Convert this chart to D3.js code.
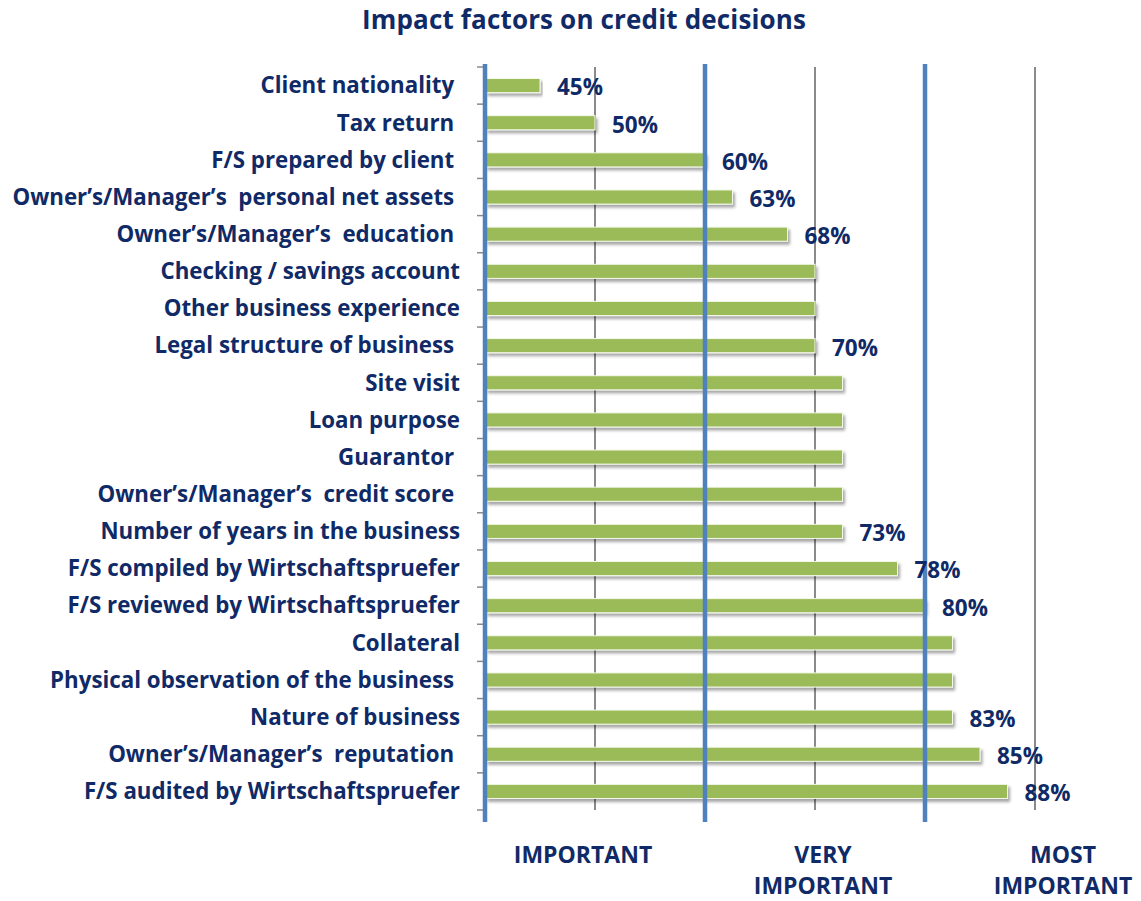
<!DOCTYPE html>
<html>
<head>
<meta charset="utf-8">
<script src="https://cdn.jsdelivr.net/npm/d3@7"></script>
<style>
  body { margin: 0; background: #fff; }
  text { font-family: "Open Sans", Lato, sans-serif; font-weight: 700; fill: #0f2a66; }
</style>
</head>
<body>
<svg width="1141" height="901"></svg>
<script>
const categories = [
    'Client nationality ',
    'Tax return ',
    'F/S prepared by client ',
    'Owner\u2019s/Manager\u2019s  personal net assets ',
    'Owner\u2019s/Manager\u2019s  education ',
    'Checking / savings account',
    'Other business experience',
    'Legal structure of business ',
    'Site visit',
    'Loan purpose',
    'Guarantor ',
    'Owner\u2019s/Manager\u2019s  credit score ',
    'Number of years in the business',
    'F/S compiled by Wirtschaftspruefer',
    'F/S reviewed by Wirtschaftspruefer',
    'Collateral',
    'Physical observation of the business ',
    'Nature of business',
    'Owner\u2019s/Manager\u2019s  reputation ',
    'F/S audited by Wirtschaftspruefer'
];
const values = [45, 50, 60, 62.5, 67.5, 70, 70, 70, 72.5, 72.5, 72.5, 72.5, 72.5, 77.5, 80, 82.5, 82.5, 82.5, 85, 87.5];
const showLabel = [1, 1, 1, 1, 1, 0, 0, 1, 0, 0, 0, 0, 1, 1, 1, 0, 0, 1, 1, 1];
const thickTicks = [40, 60, 80];
const thinTicks = [50, 70, 90];
const zoneLabels = [['IMPORTANT'], ['VERY', 'IMPORTANT'], ['MOST', 'IMPORTANT']];
const title = 'Impact factors on credit decisions';

const svg = d3.select('svg');
const x = d3.scaleLinear().domain([40, 90]).range([485, 1035]);
const y = d3.scaleBand().domain(categories).range([67, 810]).paddingInner(0.62).paddingOuter(0.31);
const step = y.step();

const defs = svg.append('defs');
const f = defs.append('filter').attr('id', 'shadow').attr('x', '-5%').attr('y', '-50%').attr('width', '110%').attr('height', '220%');
f.append('feDropShadow').attr('dx', 2).attr('dy', 3).attr('stdDeviation', 1.8)
    .attr('flood-color', '#000').attr('flood-opacity', 0.35);

// title
svg.append('text')
    .attr('x', 584).attr('y', 29)
    .attr('text-anchor', 'middle')
    .attr('font-size', '26px')
    .attr('textLength', 444)
    .text(title);

// thin grey gridlines (behind bars)
svg.selectAll('line.grid').data(thinTicks).join('line')
    .attr('class', 'grid')
    .attr('x1', d => x(d)).attr('x2', d => x(d))
    .attr('y1', 67).attr('y2', 810)
    .attr('stroke', '#8a8a8a').attr('stroke-width', 2);

// small ticks on the category axis
const bounds = d3.range(categories.length + 1).map(i => 67 + i * step);
svg.selectAll('line.tick').data(bounds).join('line')
    .attr('class', 'tick')
    .attr('x1', 477).attr('x2', 486)
    .attr('y1', d => d).attr('y2', d => d)
    .attr('stroke', '#8a8a8a').attr('stroke-width', 1.5);

// bars
svg.selectAll('rect.bar').data(values).join('rect')
    .attr('class', 'bar')
    .attr('x', x(40) + 1)
    .attr('y', (d, i) => y(categories[i]))
    .attr('width', d => x(d) - x(40) - 1)
    .attr('height', y.bandwidth())
    .attr('fill', '#9bbb59')
    .attr('stroke', '#f4f8ea').attr('stroke-width', 1)
    .attr('filter', 'url(#shadow)');

// thick blue lines
svg.selectAll('line.zone').data(thickTicks).join('line')
    .attr('class', 'zone')
    .attr('x1', d => x(d)).attr('x2', d => x(d))
    .attr('y1', 64).attr('y2', 822)
    .attr('stroke', '#4f81bd').attr('stroke-width', 4.5);

// category labels
svg.selectAll('text.cat').data(categories).join('text')
    .attr('class', 'cat')
    .attr('x', 460)
    .attr('y', d => y(d) + y.bandwidth() / 2)
    .attr('dy', '0.35em')
    .attr('text-anchor', 'end')
    .attr('font-size', '22.3px')
    .style('white-space', 'pre')
    .text(d => d);

// value labels
svg.selectAll('text.val').data(values.map((v, i) => ({ v, i })).filter(d => showLabel[d.i])).join('text')
    .attr('class', 'val')
    .attr('x', d => x(d.v) + 17)
    .attr('y', d => y(categories[d.i]) + y.bandwidth() / 2 + 2)
    .attr('dy', '0.35em')
    .attr('font-size', '22.5px')
    .text(d => Math.round(d.v) + '%');

// zone labels under the chart
zoneLabels.forEach((lines, i) => {
    const t = svg.append('text')
        .attr('x', 583 + i * 240)
        .attr('y', 863)
        .attr('text-anchor', 'middle')
        .attr('font-size', '23px');
    lines.forEach((l, j) => {
        t.append('tspan').attr('x', 583 + i * 240).attr('dy', j === 0 ? 0 : 31).text(l);
    });
});
</script>
</body>
</html>
